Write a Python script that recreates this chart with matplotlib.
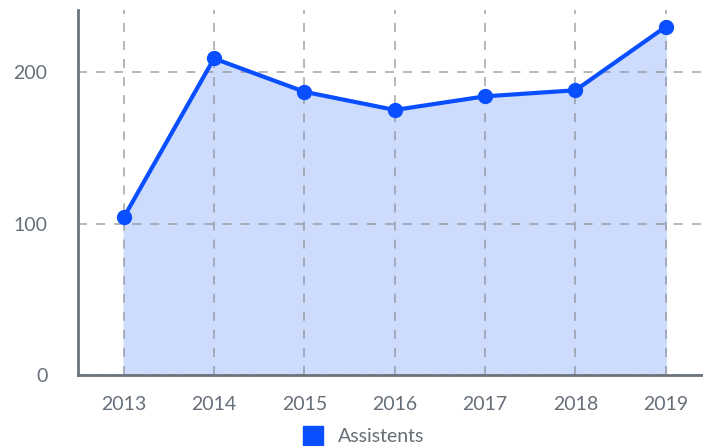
import matplotlib.pyplot as plt

years = [2013, 2014, 2015, 2016, 2017, 2018, 2019]
assistents = [104, 209, 187, 175, 184, 188, 230]
yticks = [0, 100, 200]

plt.rcParams['font.family'] = ['Lato', 'DejaVu Sans']

fig = plt.figure(figsize=(7.03, 4.46), dpi=100)
ax = fig.add_axes([78 / 703, 1 - 375 / 446, 625 / 703, 365 / 446])

ax.fill_between(years, assistents, 0, color='#cddcfd', zorder=1)
ax.plot(years, assistents, color='#0a4fff', linewidth=3, marker='o',
        markersize=10, zorder=3, label='Assistents')

ax.set_xlim(2013 - 45.5 / 90, 2019 + 37 / 90)
ax.set_ylim(0, 241)
ax.set_xticks(years)
ax.set_yticks(yticks)
ax.grid(True, linestyle=(0, (5, 5)), color='#8c9096', alpha=0.7, linewidth=1.3, zorder=2)
ax.set_axisbelow(False)

for s in ['top', 'right']:
    ax.spines[s].set_visible(False)
for s in ['left', 'bottom']:
    ax.spines[s].set_color('#6b737c')
    ax.spines[s].set_linewidth(2)
    ax.spines[s].set_zorder(4)

ax.tick_params(length=0, labelsize=14, labelcolor='#666e78')
ax.tick_params(axis='x', pad=15)
ax.tick_params(axis='y', pad=22)

handle = plt.Line2D([], [], marker='s', color='#0a4fff', linestyle='none', markersize=14)
fig.legend([handle], ['Assistents'], loc='center', bbox_to_anchor=(359 / 703, 9 / 446),
           frameon=False, fontsize=14, labelcolor='#666e78', handletextpad=0.3,
           borderpad=0, borderaxespad=0)

fig.savefig('out.png', dpi=100)
